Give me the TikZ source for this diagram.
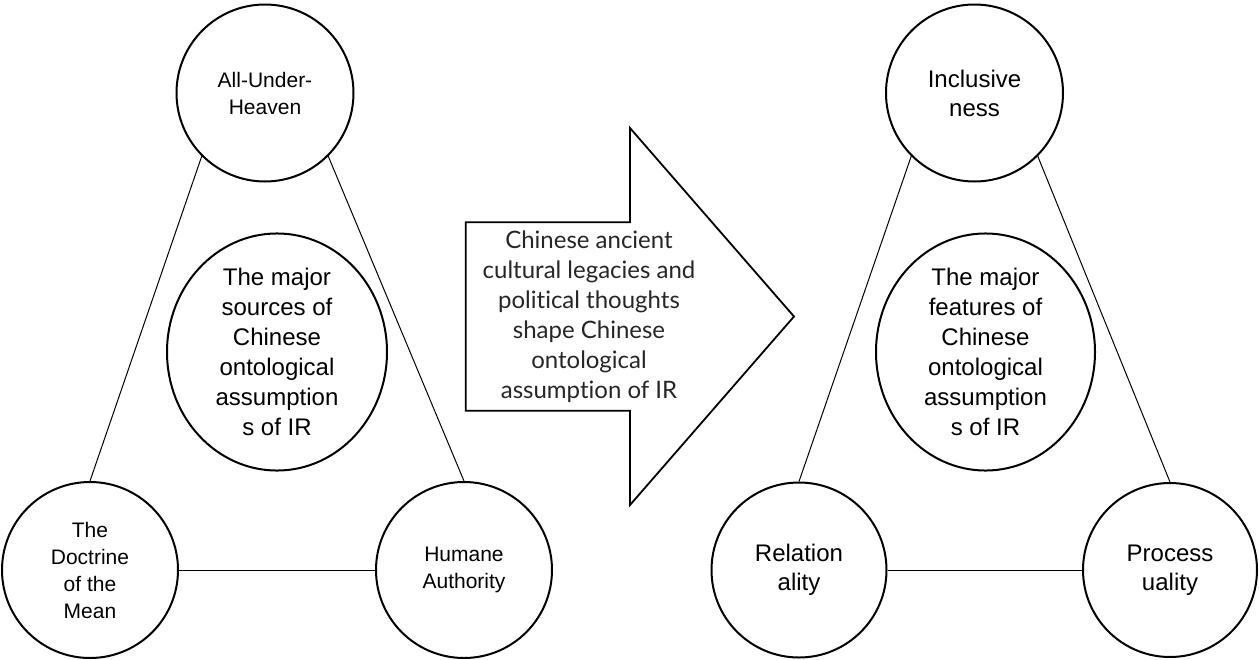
\documentclass[tikz,border=0pt]{standalone}
\usepackage{fontspec}
\setmainfont{Liberation Sans}
\newfontfamily\arrowfont[Ligatures=NoCommon]{Lato}
\usetikzlibrary{shapes.geometric}
\begin{document}
\begin{tikzpicture}[x=0.5pt,y=-0.5pt,
  bubble/.style={draw, ellipse, line width=1pt, inner sep=0pt, align=center},
  smalltext/.style={font=\fontsize{10.5pt}{13.5pt}\selectfont},
  bigtext/.style={font=\fontsize{12pt}{15pt}\selectfont},
  pairtext/.style={font=\fontsize{12pt}{14.5pt}\selectfont},
  link/.style={line width=0.5pt},
  arrowbox/.style={line width=0.9pt, line join=miter}
]
\useasboundingbox (0,0) rectangle (1259,659);

% ---- sources of the ontological assumptions ----
\node[bubble, smalltext, minimum size=88.5pt] (tl) at (265,93) {All-Under-\\Heaven};
\node[bubble, bigtext, minimum width=110pt, minimum height=111pt] (cl) at (277,352)
  {The major\\sources of\\Chinese\\ontological\\assumption\\s of IR};
\node[bubble, smalltext, minimum size=88pt] (bl) at (90,570) {The\\Doctrine\\of the\\Mean};
\node[bubble, smalltext, minimum size=88pt] (br) at (464,570) {Humane\\Authority};

\draw[link] (tl.-135) -- (bl.north);
\draw[link] (tl.-45) -- (br.north);
\draw[link] (bl.east) -- (br.west);

% ---- block arrow ----
\draw[arrowbox] (465.7,222.3) -- (630,222.3) -- (630,128) -- (794,316.5)
  -- (630,505) -- (630,410.7) -- (465.7,410.7) -- cycle;
\node[align=center, text=black!85, font=\arrowfont\fontsize{12pt}{15pt}\selectfont] (shape) at (589,317)
  {Chinese ancient\\cultural legacies and\\political thoughts\\shape Chinese\\ontological\\assumption of IR};

% ---- features of the ontological assumptions ----
\node[bubble, pairtext, minimum size=88.5pt] (tr) at (974.5,93) {Inclusive\\ness};
\node[bubble, bigtext, minimum width=109.5pt, minimum height=111pt] (cr) at (985.5,352)
  {The major\\features of\\Chinese\\ontological\\assumption\\s of IR};
\node[bubble, pairtext, minimum size=87.5pt] (rl) at (799,570) {Relation\\ality};
\node[bubble, pairtext, minimum size=87pt] (rr) at (1170,570) {Process\\uality};

\draw[link] (tr.-135) -- (rl.north);
\draw[link] (tr.-45) -- (rr.north);
\draw[link] (rl.east) -- (rr.west);
\end{tikzpicture}
\end{document}
